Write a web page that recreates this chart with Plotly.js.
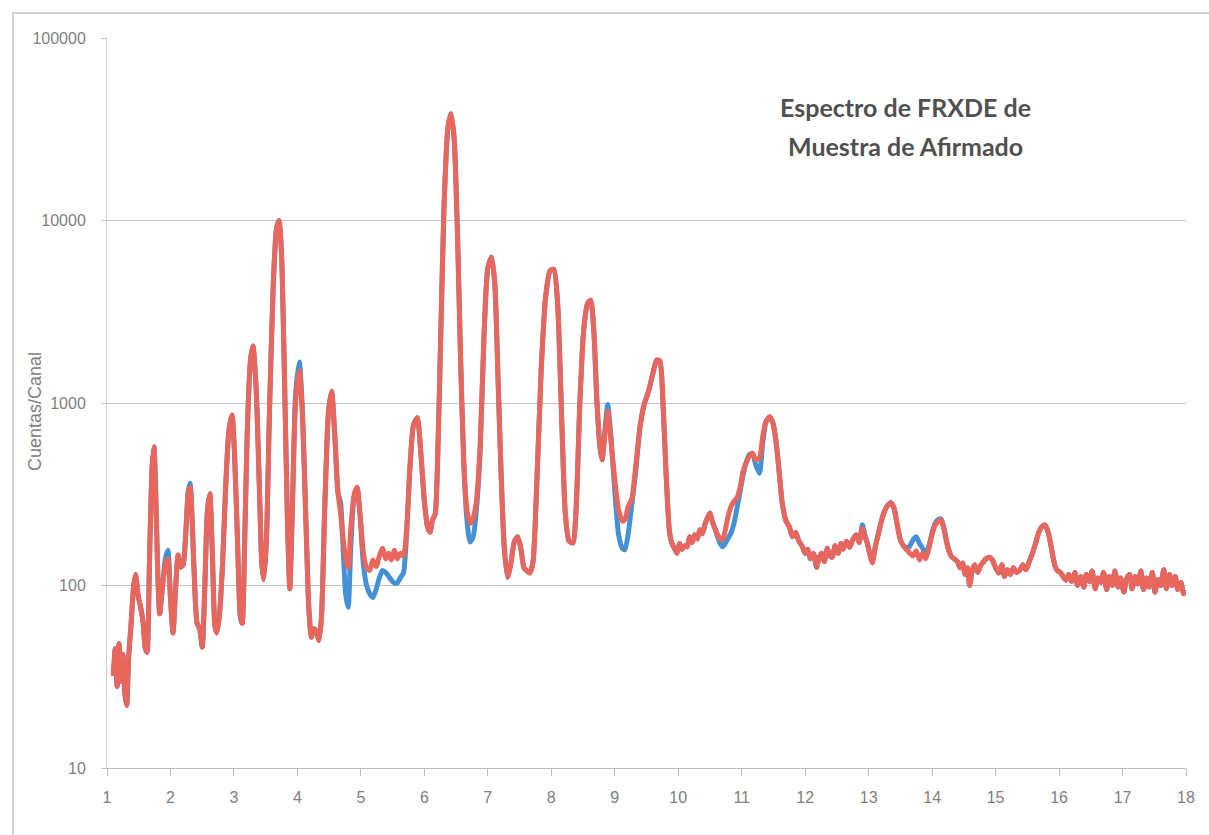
<!DOCTYPE html>
<html>
<head>
<meta charset="utf-8">
<script src="https://cdn.plot.ly/plotly-3.0.1.min.js"></script>
<style>
  html, body { margin: 0; padding: 0; background: #ffffff; }
  #chart { width: 1209px; height: 835px; }
</style>
</head>
<body>
<div id="chart"></div>
<script>
// Energy (keV)
const energy = [
1.10,1.13,1.16,1.19,1.22,1.25,1.28,1.31,1.34,1.38,1.42,1.45,1.49,1.53,1.57,1.60,1.63,1.67,1.71,1.74,1.77,1.80,1.83,1.87,1.92,1.96,2.00,2.04,2.08,2.12,2.16,2.20,2.24,2.28,2.31,2.35,2.39,2.42,2.46,2.50,2.54,2.58,2.62,2.66,2.70,2.73,2.77,2.82,2.87,2.92,2.97,3.01,3.06,3.10,3.13,3.17,3.21,3.26,3.30,3.35,3.40,3.44,3.47,3.51,3.56,3.62,3.67,3.71,3.75,3.80,3.84,3.88,3.92,3.97,4.03,4.08,4.13,4.18,4.22,4.26,4.30,4.34,4.38,4.43,4.49,4.54,4.59,4.64,4.68,4.72,4.76,4.80,4.84,4.89,4.94,4.99,5.04,5.09,5.14,5.19,5.24,5.29,5.34,5.39,5.44,5.48,5.53,5.57,5.62,5.67,5.72,5.77,5.83,5.89,5.94,6.00,6.05,6.09,6.13,6.17,6.21,6.26,6.31,6.37,6.42,6.47,6.52,6.57,6.62,6.67,6.72,6.77,6.82,6.88,6.94,7.00,7.06,7.11,7.16,7.21,7.26,7.31,7.36,7.42,7.47,7.52,7.57,7.62,7.66,7.71,7.77,7.84,7.91,7.98,8.04,8.10,8.16,8.22,8.28,8.34,8.39,8.45,8.51,8.57,8.62,8.67,8.72,8.77,8.80,8.85,8.89,8.94,9.00,9.06,9.12,9.16,9.21,9.27,9.33,9.40,9.47,9.53,9.60,9.66,9.71,9.76,9.81,9.86,9.90,9.94,9.98,10.02,10.06,10.10,10.14,10.18,10.22,10.26,10.30,10.34,10.38,10.42,10.46,10.50,10.54,10.58,10.62,10.66,10.70,10.74,10.78,10.83,10.88,10.93,10.97,11.02,11.07,11.12,11.17,11.22,11.28,11.33,11.38,11.44,11.49,11.54,11.59,11.64,11.70,11.75,11.80,11.85,11.90,11.95,12.00,12.04,12.08,12.13,12.18,12.22,12.26,12.30,12.35,12.39,12.43,12.47,12.52,12.56,12.60,12.65,12.70,12.75,12.80,12.85,12.90,12.94,12.98,13.02,13.06,13.10,13.15,13.20,13.25,13.30,13.35,13.40,13.45,13.50,13.55,13.60,13.65,13.70,13.75,13.80,13.85,13.90,13.95,14.00,14.05,14.10,14.14,14.19,14.24,14.30,14.35,14.40,14.44,14.48,14.52,14.56,14.59,14.63,14.67,14.72,14.76,14.81,14.85,14.90,14.95,15.00,15.05,15.10,15.14,15.19,15.23,15.28,15.33,15.38,15.43,15.48,15.53,15.58,15.63,15.68,15.73,15.78,15.83,15.88,15.93,15.97,16.02,16.06,16.11,16.15,16.20,16.25,16.29,16.34,16.39,16.43,16.48,16.52,16.57,16.61,16.66,16.70,16.75,16.79,16.84,16.88,16.93,16.97,17.02,17.06,17.11,17.15,17.20,17.24,17.29,17.33,17.38,17.42,17.47,17.51,17.56,17.60,17.65,17.69,17.74,17.78,17.83,17.87,17.92,17.96,18.00
];

// Counts per channel, spectrum 1 (blue)
const countsBlue = [
32,45,28,48,30,42,26,22,40,62,100,115,88,76,62,46,43,140,440,575,300,115,70,95,140,156,85,55,95,147,126,130,190,330,363,190,85,62,58,46,95,250,318,150,60,55,68,130,350,700,860,520,160,68,62,180,700,1700,2050,1200,350,130,108,170,900,4500,9000,10000,6500,1200,250,96,260,1100,1680,900,250,75,52,58,56,50,68,260,900,1160,650,320,285,160,90,76,160,300,342,230,130,100,90,86,95,110,121,118,112,107,103,103,110,117,190,420,760,830,560,290,210,196,230,245,500,2500,12000,32000,38500,28000,9000,1800,480,230,173,185,260,550,2300,5500,6300,4500,1400,400,160,111,130,175,185,160,125,120,117,133,350,1500,3800,5300,5400,3500,900,250,175,171,260,1000,2500,3500,3660,2500,1000,560,488,750,980,650,330,190,160,157,190,280,420,750,1000,1150,1450,1720,1700,1000,400,200,170,160,150,170,158,165,163,185,172,190,180,202,192,215,235,250,222,205,185,170,163,170,180,194,220,270,320,400,470,520,530,460,412,600,780,840,780,620,420,280,225,210,185,195,175,165,150,158,140,150,126,142,150,135,160,145,143,165,150,170,158,175,162,178,190,172,215,190,170,148,135,160,190,225,255,275,285,265,215,178,165,160,165,178,185,170,160,150,165,195,220,230,232,205,168,145,140,135,125,133,115,125,100,120,130,118,128,135,140,143,138,125,117,130,112,122,115,125,118,121,130,122,135,150,170,195,210,214,195,160,130,121,118,112,107,115,105,118,100,112,98,115,105,120,96,110,104,118,95,112,100,120,98,110,92,108,115,96,112,102,120,95,110,98,118,92,108,100,122,96,115,100,112,95,104,90,94
];

// Counts per channel, spectrum 2 (red)
const countsRed = [
32,45,28,48,30,42,26,22,40,62,100,115,88,76,62,46,43,140,440,575,300,115,70,95,130,140,85,55,95,147,126,130,190,320,345,190,85,62,58,46,95,250,318,150,60,55,68,130,350,700,860,520,160,68,62,180,700,1700,2050,1200,350,130,108,170,900,4500,9000,10000,6500,1200,250,96,260,1000,1500,850,250,75,52,58,56,50,68,260,900,1160,650,320,250,180,140,125,200,310,345,240,150,125,121,138,127,145,160,140,150,138,156,140,150,145,200,430,760,830,560,290,210,196,230,245,500,2500,12000,32000,38500,28000,9000,1800,480,260,219,235,290,600,2400,5500,6300,4500,1400,400,160,111,130,175,185,160,125,120,117,133,350,1500,3800,5300,5400,3500,900,250,175,171,260,1000,2500,3500,3660,2500,1000,560,488,700,900,620,380,260,225,229,270,300,450,750,1000,1150,1450,1720,1700,1000,400,200,170,160,150,170,158,165,163,185,172,190,180,202,192,215,235,250,222,205,190,180,178,200,235,270,290,305,340,420,470,510,530,490,500,650,790,840,780,620,420,280,225,210,185,195,175,165,150,158,140,150,126,142,150,135,160,145,143,165,150,170,158,175,162,178,190,172,205,185,170,148,133,160,190,225,255,275,283,265,215,178,165,157,150,145,155,138,150,140,160,190,215,225,229,200,165,145,140,135,125,133,115,125,100,120,130,118,128,135,140,143,138,125,117,130,112,122,115,125,118,121,130,122,135,150,170,195,210,214,195,160,130,121,118,112,107,115,105,118,100,112,98,115,105,120,96,110,104,118,95,112,100,120,98,110,92,108,115,96,112,102,120,95,110,98,118,92,108,100,122,96,115,100,112,95,104,90,94
];

const xTickVals = [1,2,3,4,5,6,7,8,9,10,11,12,13,14,15,16,17,18];
const yTickVals = [10,100,1000,10000,100000];
const yTickText = ["10","100","1000","10000","100000"];
const chartTitleLines = ["Espectro de FRXDE de", "Muestra de Afirmado"];
const yAxisLabel = "Cuentas/Canal";

const traces = [
  { x: energy, y: countsBlue, type: 'scatter', mode: 'lines', name: 'Serie 1',
    line: { color: '#4591d5', width: 5, shape: 'spline', smoothing: 0.6 } },
  { x: energy, y: countsRed, type: 'scatter', mode: 'lines', name: 'Serie 2',
    line: { color: '#e8665c', width: 5, shape: 'spline', smoothing: 0.6 } }
];

const tickFont = { family: 'Liberation Sans, Arial, sans-serif', size: 16, color: '#808080' };

const layout = {
  width: 1209, height: 835,
  margin: { l: 107, r: 23, t: 38, b: 67, pad: 0 },
  paper_bgcolor: '#ffffff', plot_bgcolor: '#ffffff',
  showlegend: false,
  xaxis: {
    range: [1, 18], tickvals: xTickVals, ticks: 'outside', ticklen: 7, tickcolor: '#bdbdbd',
    showline: true, linecolor: '#bdbdbd', linewidth: 1, showgrid: false, zeroline: false,
    tickfont: tickFont, ticklabelstandoff: 8
  },
  yaxis: {
    type: 'log', range: [1, 5], tickvals: yTickVals, ticktext: yTickText,
    ticks: 'outside', ticklen: 5, tickcolor: '#c4c4c4',
    showline: true, linecolor: '#cfcfcf', linewidth: 1,
    showgrid: true, gridcolor: '#c4c4c4', gridwidth: 1, zeroline: false,
    tickfont: tickFont, ticklabelstandoff: 12
  },
  annotations: [
    { text: chartTitleLines[0], xref: 'paper', yref: 'paper', x: 0.7396, y: 0.9055,
      xanchor: 'center', yanchor: 'middle', showarrow: false,
      font: { family: 'Lato, Open Sans, sans-serif', size: 25, color: '#505050', weight: 'bold' } },
    { text: chartTitleLines[1], xref: 'paper', yref: 'paper', x: 0.7396, y: 0.852,
      xanchor: 'center', yanchor: 'middle', showarrow: false,
      font: { family: 'Lato, Open Sans, sans-serif', size: 25, color: '#505050', weight: 'bold' } },
    { text: yAxisLabel, xref: 'paper', yref: 'paper', x: -0.0667, y: 0.4877,
      xanchor: 'center', yanchor: 'middle', textangle: -90, showarrow: false,
      font: { family: 'Liberation Sans, Arial, sans-serif', size: 18, color: '#808080' } }
  ],
  shapes: [
    { type: 'rect', xref: 'paper', yref: 'paper', x0: -0.0871, x1: 1.04, y0: -0.11, y1: 1.0342,
      line: { color: '#d2d2d2', width: 2 }, fillcolor: 'rgba(0,0,0,0)', layer: 'below' }
  ]
};

Plotly.newPlot('chart', traces, layout, { staticPlot: true, displayModeBar: false });
</script>
</body>
</html>
